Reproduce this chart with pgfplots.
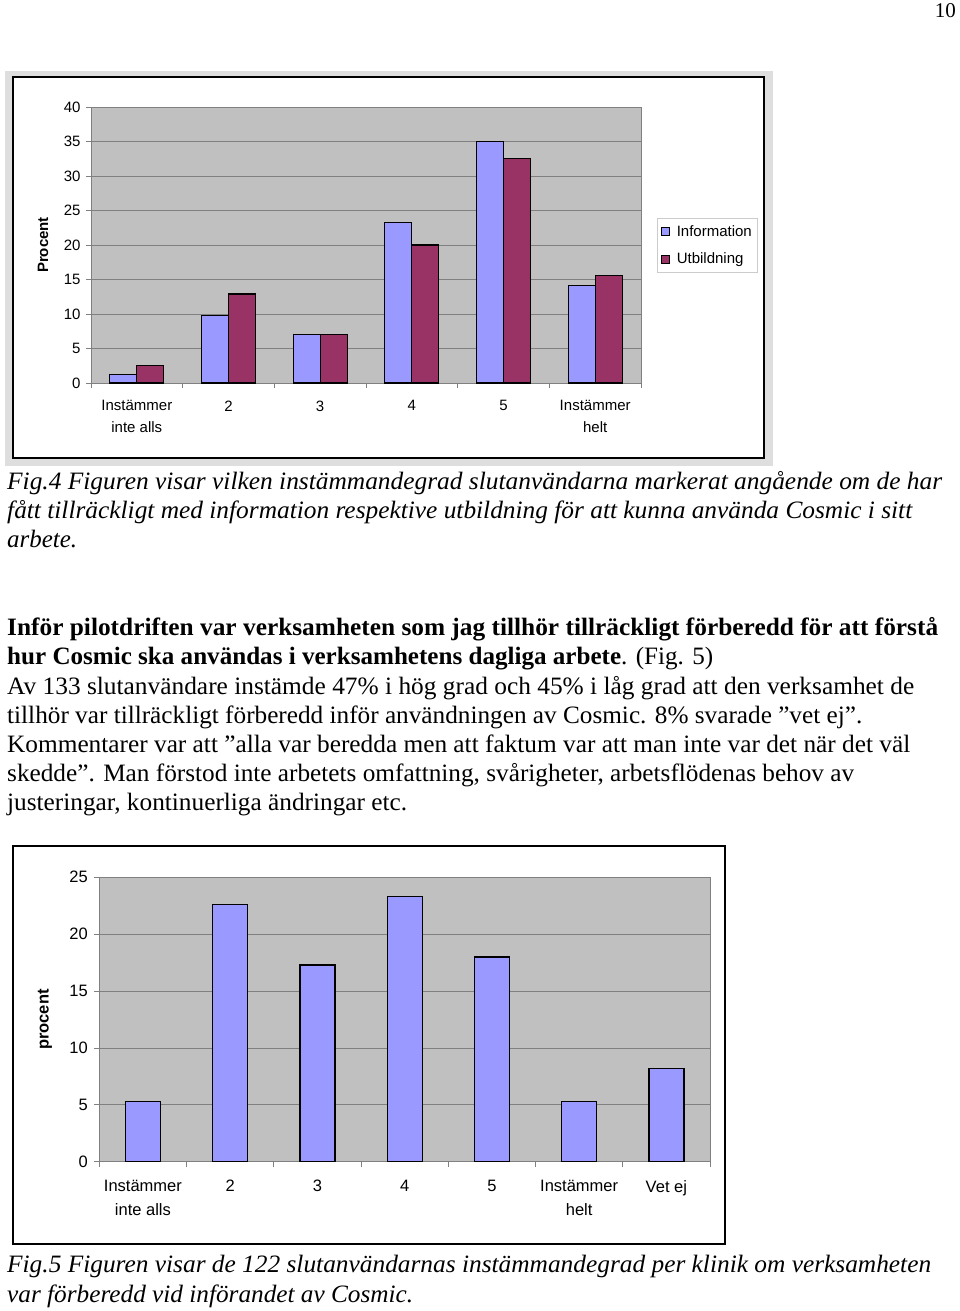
\documentclass[border=0pt]{standalone}
\usepackage{pgfplots}
\pgfplotsset{compat=1.18}
\usepackage{fontspec}
\setmainfont{Liberation Serif}
\newfontfamily\arial{Liberation Sans}
\definecolor{info}{RGB}{153,153,255}
\definecolor{utb}{RGB}{153,51,102}
\definecolor{plotgray}{RGB}{192,192,192}
\definecolor{linegray}{RGB}{128,128,128}
\definecolor{framegray}{RGB}{222,222,222}
\newcommand\bodyfont{\fontsize{25}{30}\selectfont}
\newcommand\tline[3]{\node[anchor=base west, inner sep=0pt] at (7pt,-#1pt) {\resizebox{#2pt}{\height}{\bodyfont #3}};}
\pgfplotsset{
  excel/.style={
    scale only axis, anchor=south west,
    axis background/.style={fill=plotgray},
    axis line style={linegray, line width=0.9pt},
    ymajorgrids, grid style={linegray, line width=0.9pt},
    tick align=outside, tick pos=left,
    major tick length=5pt,
    tick style={linegray, line width=0.9pt},
    /pgf/number format/assume math mode=true,
    xticklabels={},
    ybar=0pt,
  }}
\begin{document}
\begin{tikzpicture}
\path[use as bounding box] (0pt,0pt) rectangle (960pt,-1311pt);
% page number
\node[anchor=base east, inner sep=0pt] at (956pt,-17.5pt) {\fontsize{21}{24}\selectfont 10};
% frame chart 1
\fill[framegray] (5pt,-71pt) rectangle (773pt,-466pt);
\filldraw[fill=white, draw=black, line width=2pt] (13pt,-77pt) rectangle (764pt,-458pt);
% frame chart 2
\filldraw[fill=white, draw=black, line width=2.2pt] (13pt,-846pt) rectangle (725pt,-1244pt);

\begin{axis}[excel,
  at={(91pt,-383pt)}, width=550pt, height=276pt,
  xmin=-0.5, xmax=5.5, ymin=0, ymax=40,
  ytick={0,5,...,40},
  xtick={-0.5,0.5,...,5.5},
  extra x ticks={0,1,2,3,4,5},
  extra x tick labels={{Instämmer\\inte alls},2,3,4,5,{Instämmer\\helt}},
  extra x tick style={major tick length=0pt, tick label style={align=center, yshift=-14pt}},
  tick label style={font=\arial\fontsize{15}{22}\selectfont},
  yticklabel style={xshift=-2pt},
  ylabel={\textbf{Procent}},
  ylabel style={font=\arial\fontsize{15}{18}\selectfont, at={(axis description cs:-0.087,0.5)}, anchor=center},
  bar width=27pt,
  legend style={at={(1.029,0.598)}, anchor=north west, draw=black!20, line width=0.8pt,
    font=\arial\fontsize{15}{18}\selectfont, cells={anchor=west}, inner xsep=4pt, inner ysep=5pt, row sep=11pt},
  legend image code/.code={\draw[#1, draw=black, line width=0.8pt] (0pt,-4pt) rectangle (8pt,4pt); \path[draw=none, fill=none] (0pt,0pt) -- (13pt,0pt);},
]
\addplot[fill=info, draw=black, line width=1.2pt] coordinates {(0,1.2) (1,9.8) (2,7.0) (3,23.3) (4,35.0) (5,14.1)};
\addplot[fill=utb, draw=black, line width=1.2pt] coordinates {(0,2.5) (1,12.9) (2,7.0) (3,20.0) (4,32.5) (5,15.6)};
\legend{Information, Utbildning}
\end{axis}

\begin{axis}[excel,
  at={(99.3pt,-1161.7pt)}, width=610.7pt, height=284.4pt,
  xmin=-0.5, xmax=6.5, ymin=0, ymax=25,
  ytick={0,5,...,25},
  xtick={-0.5,0.5,...,6.5},
  extra x ticks={0,1,2,3,4,5,6},
  extra x tick labels={{Instämmer\\inte alls},2,3,4,5,{Instämmer\\helt},Vet ej},
  extra x tick style={major tick length=0pt, tick label style={align=center, yshift=-15pt}},
  tick label style={font=\arial\fontsize{16.5}{24}\selectfont},
  yticklabel style={xshift=-3pt},
  ylabel={\textbf{procent}},
  ylabel style={font=\arial\fontsize{16.5}{20}\selectfont, at={(axis description cs:-0.089,0.5)}, anchor=center},
  bar width=35pt,
]
\addplot[fill=info, draw=black, line width=1.3pt] coordinates {(0,5.3) (1,22.6) (2,17.3) (3,23.3) (4,18.0) (5,5.3) (6,8.2)};
\end{axis}

% caption fig 4
\tline{489}{935}{\itshape Fig.4 Figuren visar vilken instämmandegrad slutanvändarna markerat angående om de har}
\tline{518.3}{905}{\itshape fått tillräckligt med information respektive utbildning för att kunna använda Cosmic i sitt}
\tline{547.3}{70}{\itshape arbete.}
% body text
\tline{635.7}{931}{\bfseries Inför pilotdriften var verksamheten som jag tillhör tillräckligt förberedd för att förstå}
\tline{664.9}{706}{\textbf{hur Cosmic ska användas i verksamhetens dagliga arbete}. (Fig. 5)}
\tline{694.1}{907}{Av 133 slutanvändare instämde 47\% i hög grad och 45\% i låg grad att den verksamhet de}
\tline{723.3}{855}{tillhör var tillräckligt förberedd inför användningen av Cosmic. 8\% svarade ”vet ej”.}
\tline{752.5}{903}{Kommentarer var att ”alla var beredda men att faktum var att man inte var det när det väl}
\tline{781.7}{847}{skedde”. Man förstod inte arbetets omfattning, svårigheter, arbetsflödenas behov av}
\tline{810.9}{400}{justeringar, kontinuerliga ändringar etc.}
% caption fig 5
\tline{1272.7}{924}{\itshape Fig.5 Figuren visar de 122 slutanvändarnas instämmandegrad per klinik om verksamheten}
\tline{1302.3}{406}{\itshape var förberedd vid införandet av Cosmic.}
\end{tikzpicture}
\end{document}
